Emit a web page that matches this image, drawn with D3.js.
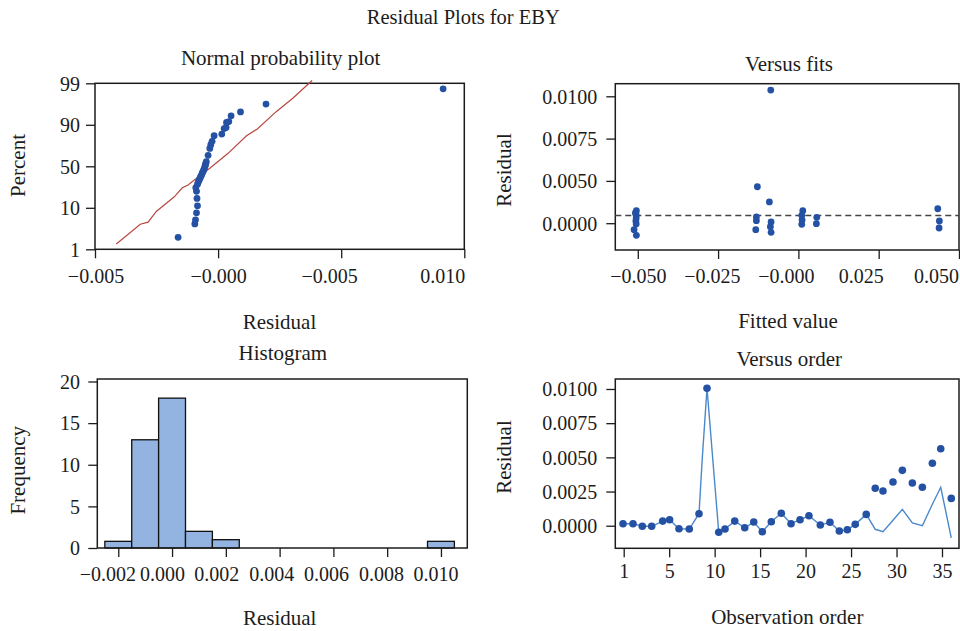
<!DOCTYPE html>
<html>
<head>
<meta charset="utf-8">
<title>Residual Plots for EBY</title>
<script src="https://cdn.jsdelivr.net/npm/d3@7/dist/d3.min.js"></script>
<style>
  html, body { margin: 0; padding: 0; background: #fff; }
  svg { display: block; font-family: "Liberation Serif", "Times New Roman", serif; }
</style>
</head>
<body>
<svg id="chart" width="960" height="631"></svg>
<script>
// ---- Normal probability plot: ordered residuals and their plotted percent ----
const nppResid = [-0.001625, -0.000946, -0.000918, -0.000877, -0.000837, -0.000857, -0.000877, -0.000906,
  -0.000837, -0.000804, -0.000764, -0.000731, -0.000703, -0.00067, -0.000642, -0.000609, -0.000581,
  -0.000552, -0.000528, -0.000516, -0.0005, -0.000479, -0.000406, -0.000337, -0.000297, -0.000244,
  -0.000162, 0.00015, 0.000244, 0.000325, 0.000341, 0.000435, 0.000528, 0.00091, 0.001946, 0.00914];
const nppPct = [3.6, 6.5, 7.4, 8.9, 11.9, 19.0, 25.9, 29.4, 32.7, 34.9, 36.8, 38.8, 40.2, 41.8, 43.6, 45.0,
  46.7, 48.4, 50.3, 51.5, 52.7, 54.6, 60.6, 67.2, 70.8, 74.1, 79.5, 81.1, 86.4, 87.4, 90.5, 90.7,
  91.95, 92.8, 94.5, 97.8];
// fitted normal reference line
const refResid = [-0.004135, -0.00316, -0.002843, -0.00251, -0.001779, -0.001454, -0.001219, -0.000877,
  -0.000337, 0.000406, 0.001154, 0.001592, 0.002372, 0.003046, 0.003818];
const refPct = [2.15, 6.44, 6.88, 9.2, 20.6, 29.3, 32.0, 38.5, 48.1, 62.5, 79.5, 86.0, 92.9, 95.8, 99.6];
const nppXTicks = [-0.005, 0, 0.005, 0.010];
const nppXLabels = ["\u22120.005", "\u22120.000", "\u22120.005", "0.010"];
const nppYTicks = [1, 10, 50, 90, 99];
const nppYLabels = ["1", "10", "50", "90", "99"];

// ---- Versus fits ----
const fitsX = [-0.05044, -0.05075, -0.0505, -0.0505, -0.0506, -0.0505, -0.05115, -0.05044,
  -0.01277, -0.01308, -0.01308, -0.01327,
  -0.0086, -0.00903, -0.0085, -0.00872, -0.0085,
  0.00137, 0.00105, 0.00115, 0.00105,
  0.00572, 0.0056,
  0.04339, 0.04389, 0.0438];
const fitsY = [0.00148, 0.00121, 0.00097, 0.00062, 0.00026, -0.00009, -0.00077, -0.00143,
  0.00431, 0.00073, 0.0003, -0.00077,
  0.01037, 0.00251, 0.00014, -0.00041, -0.00108,
  0.00148, 0.00093, 0.00038, -0.00013,
  0.0007, -0.00006,
  0.00171, 0.00026, -0.00057];
const fitsRefLine = 0.0009;
const fitsXTicks = [-0.050, -0.025, 0, 0.025, 0.050];
const fitsXLabels = ["\u22120.050", "\u22120.025", "\u22120.000", "0.025", "0.050"];
const fitsYTicks = [0, 0.005, 0.0075, 0.010];
const fitsYLabels = ["0.0000", "0.0050", "0.0075", "0.0100"];

// ---- Histogram ----
const binMid = [-0.002, -0.001, 0.000, 0.001, 0.002, 0.010];
const binFreq = [0.8, 13, 18, 2, 1, 0.8];
const binWidth = 0.001;
const histXTicks = [-0.002, 0, 0.002, 0.004, 0.006, 0.008, 0.010];
const histXLabels = ["\u22120.002", "0.000", "0.002", "0.004", "0.006", "0.008", "0.010"];
const histYTicks = [0, 5, 10, 15, 20];

// ---- Versus order ----
const orderObs = [0.94, 1.82, 2.64, 3.46, 4.43, 5.05, 6.08, 7.21, 8.28, 9.16, 10.45, 11.14, 12.21, 13.31,
  14.30, 15.24, 16.23, 17.33, 18.40, 19.39, 20.37, 21.62, 22.68, 23.71, 24.59, 25.46, 26.67, 27.66,
  28.51, 29.61, 30.64, 31.74, 32.84, 33.94, 34.86, 36.02];
const orderResid = [0.00015, 0.00015, -0.00004, -0.00004, 0.00034, 0.00044, -0.00022, -0.00024, 0.00088,
  0.01005, -0.00048, -0.00024, 0.00034, -0.00015, 0.00027, -0.00044, 0.00029, 0.00091, 0.00015, 0.00044,
  0.00073, 0.00005, 0.00025, -0.00039, -0.00029, 0.0001, 0.00083, 0.00274, 0.00254, 0.0032, 0.00405,
  0.00312, 0.00281, 0.00457, 0.00563, 0.002];
const traceObs = [0.94, 1.82, 2.64, 3.46, 4.43, 5.05, 6.08, 7.21, 8.28, 8.64, 9.16, 10.45, 11.14, 12.21,
  13.31, 14.30, 15.24, 16.23, 17.33, 18.40, 19.39, 20.37, 21.62, 22.68, 23.71, 24.59, 25.46, 26.67,
  27.66, 28.51, 29.61, 30.64, 31.74, 32.84, 33.94, 34.86, 36.02];
const traceResid = [0.00015, 0.00015, -0.00004, -0.00004, 0.00034, 0.00044, -0.00022, -0.00024, 0.00088,
  0.00493, 0.01005, -0.00048, -0.00024, 0.00034, -0.00015, 0.00027, -0.00044, 0.00029, 0.00091, 0.00015,
  0.00044, 0.00073, 0.00005, 0.00025, -0.00039, -0.00029, 0.0001, 0.00083, -0.00026, -0.00044, 0.0004,
  0.0012, 0.0002, 0.0, 0.00157, 0.00281, -0.00088];
const orderXTicks = [1, 5, 10, 15, 20, 25, 30, 35];
const orderYTicks = [0, 0.0025, 0.005, 0.0075, 0.010];

// ---- styling ----
const ink = "#1c1c1c";
const dotColor = "#2451a4";
const traceColor = "#4a88cc";
const refColor = "#b9473f";
const barFill = "#93b3e0";

const svg = d3.select("#chart");

// panel frames (page coordinates)
const frames = {
  npp:   { x0: 95,    x1: 464.3, y0: 83.3, y1: 249.3 },
  fits:  { x0: 615.3, x1: 959,   y0: 83.7, y1: 250 },
  hist:  { x0: 97.3,  x1: 467.3, y0: 379,  y1: 548 },
  order: { x0: 615.3, x1: 959,   y0: 379,  y1: 548.3 }
};

// evenly spaced positions between a and b
const spread = (a, b, n) => d3.range(n).map(i => a + (b - a) * i / (n - 1));

// scales
const fN = frames.npp;
const xNpp = d3.scaleLinear().domain([-0.005, 0.010]).range([fN.x0, fN.x1]);
const yNpp = d3.scaleLinear().domain(nppYTicks).range(spread(fN.y1, fN.y0, nppYTicks.length));

const fF = frames.fits;
const xFits = d3.scaleLinear().domain([-0.057, 0.050]).range([fF.x0, fF.x1]);
const fitsZero = fF.y1 - 26.8, fitsStep = 42.3;
const yFits = d3.scaleLinear().domain(fitsYTicks).range(fitsYTicks.map((d, i) => fitsZero - i * fitsStep));

const fH = frames.hist;
const xHist = d3.scaleLinear().domain([-0.00278, 0.01098]).range([fH.x0, fH.x1]);
const yHist = d3.scaleLinear().domain([0, 20.3]).range([fH.y1, fH.y0]);

const fO = frames.order;
const xOrder = d3.scaleLinear().domain(orderXTicks).range(spread(623.7, 942, orderXTicks.length));
const yOrder = d3.scaleLinear().domain([-0.00165, 0.01073]).range([fO.y1, fO.y0]);

// ---- helpers ----
function frame(f) {
  svg.append("rect")
    .attr("x", f.x0).attr("y", f.y0)
    .attr("width", f.x1 - f.x0).attr("height", f.y1 - f.y0)
    .attr("fill", "none").attr("stroke", ink).attr("stroke-width", 1.5);
}

function styleAxis(g) {
  g.attr("font-family", null).attr("font-size", null);
  g.select(".domain").remove();
  g.selectAll(".tick line").attr("stroke", ink).attr("stroke-width", 1.3);
  g.selectAll(".tick text").attr("fill", ink).style("font-size", "20px");
}

function bottomAxis(scale, ticks, labels, y, baseline, nudges) {
  const g = svg.append("g").attr("transform", `translate(0,${y})`)
    .call(d3.axisBottom(scale).tickValues(ticks)
      .tickFormat((d, i) => labels ? labels[i] : String(d))
      .tickSize(9).tickSizeOuter(0));
  styleAxis(g);
  g.selectAll(".tick text")
    .attr("y", baseline).attr("dy", null)
    .attr("dx", (d, i) => nudges ? nudges[i] : 0);
}

function leftAxis(scale, ticks, labels, x, pad) {
  const g = svg.append("g").attr("transform", `translate(${x},0)`)
    .call(d3.axisLeft(scale).tickValues(ticks)
      .tickFormat((d, i) => labels ? labels[i] : String(d))
      .tickSize(9).tickPadding(pad).tickSizeOuter(0));
  styleAxis(g);
  g.selectAll(".tick text").attr("dy", "0.34em");
}

function text(str, x, y, size, rotate) {
  const t = svg.append("text")
    .attr("text-anchor", "middle").attr("fill", ink)
    .style("font-size", size + "px").text(str);
  if (rotate) t.attr("transform", `translate(${x},${y}) rotate(-90)`);
  else t.attr("x", x).attr("y", y);
}

function dots(xs, ys, sx, sy, r) {
  svg.append("g").selectAll("circle")
    .data(xs.map((x, i) => [x, ys[i]]))
    .join("circle")
    .attr("cx", d => sx(d[0])).attr("cy", d => sy(d[1]))
    .attr("r", r).attr("fill", dotColor);
}

// ---- overall title ----
text("Residual Plots for EBY", 463.3, 24, 20.5);

// ---- Normal probability plot ----
text("Normal probability plot", 280.7, 65, 21);
frame(fN);
leftAxis(yNpp, nppYTicks, nppYLabels, fN.x0, 6);
bottomAxis(xNpp, nppXTicks, nppXLabels, fN.y1, 33.4, [0.5, 0, -12, -22]);
svg.append("path")
  .datum(refResid.map((x, i) => [x, refPct[i]]))
  .attr("d", d3.line().x(d => xNpp(d[0])).y(d => yNpp(d[1])))
  .attr("fill", "none").attr("stroke", refColor).attr("stroke-width", 1.2);
dots(nppResid, nppPct, xNpp, yNpp, 3.4);
text("Percent", 25, 165.5, 21, true);
text("Residual", 279.5, 329, 21);

// ---- Versus fits ----
text("Versus fits", 789, 70.7, 21);
frame(fF);
leftAxis(yFits, fitsYTicks, fitsYLabels, fF.x0, 9);
bottomAxis(xFits, fitsXTicks, fitsXLabels, fF.y1, 33.3, [0, -6.3, -12.5, -18, -23]);
svg.append("line")
  .attr("x1", fF.x0).attr("x2", fF.x1)
  .attr("y1", yFits(fitsRefLine)).attr("y2", yFits(fitsRefLine))
  .attr("stroke", "#444").attr("stroke-width", 1.5).attr("stroke-dasharray", "6,4");
dots(fitsX, fitsY, xFits, yFits, 3.4);
text("Residual", 511, 170, 21, true);
text("Fitted value", 788, 327.5, 21);

// ---- Histogram ----
text("Histogram", 282.8, 360, 21);
svg.append("g").selectAll("rect")
  .data(binMid.map((m, i) => ({ m, f: binFreq[i] })))
  .join("rect")
  .attr("x", d => xHist(d.m - binWidth / 2))
  .attr("width", d => xHist(d.m + binWidth / 2) - xHist(d.m - binWidth / 2))
  .attr("y", d => yHist(d.f))
  .attr("height", d => yHist(0) - yHist(d.f))
  .attr("fill", barFill).attr("stroke", "#111").attr("stroke-width", 1.3);
frame(fH);
leftAxis(yHist, histYTicks, null, fH.x0, 8.3);
bottomAxis(xHist, histXTicks, histXLabels, fH.y1, 32.7, [-10.8, -10, -9.5, -8.4, -7.3, -6.2, -5.5]);
text("Frequency", 25, 470.3, 21, true);
text("Residual", 279.7, 625, 21);

// ---- Versus order ----
text("Versus order", 789.2, 366, 21);
frame(fO);
leftAxis(yOrder, orderYTicks, orderYTicks.map(d => d.toFixed(4)), fO.x0, 9);
bottomAxis(xOrder, orderXTicks, null, fO.y1, 30, null);
svg.append("path")
  .datum(traceObs.map((x, i) => [x, traceResid[i]]))
  .attr("d", d3.line().x(d => xOrder(d[0])).y(d => yOrder(d[1])))
  .attr("fill", "none").attr("stroke", traceColor).attr("stroke-width", 1.4);
dots(orderObs, orderResid, xOrder, yOrder, 3.8);
text("Residual", 511, 457, 21, true);
text("Observation order", 787.3, 624, 21);
</script>
</body>
</html>
